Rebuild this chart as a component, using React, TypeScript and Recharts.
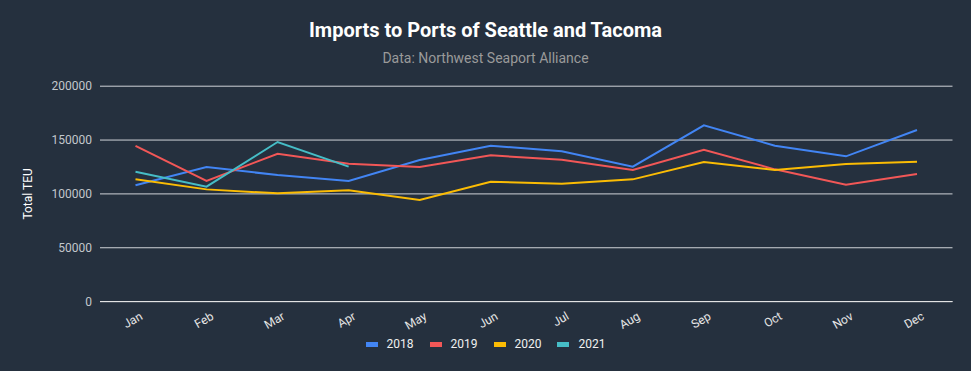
import React from 'react';
import { LineChart, Line, XAxis, YAxis, CartesianGrid } from 'recharts';

const months = ['Jan', 'Feb', 'Mar', 'Apr', 'May', 'Jun', 'Jul', 'Aug', 'Sep', 'Oct', 'Nov', 'Dec'];
const s2018 = [108000, 125000, 117500, 112000, 131500, 144800, 139500, 125300, 163700, 144800, 134900, 159300];
const s2019 = [144500, 112000, 137300, 128000, 125000, 135800, 131800, 122200, 141000, 122800, 108500, 118500];
const s2020 = [113500, 104200, 100500, 103300, 94300, 111300, 109500, 113500, 129600, 122200, 127800, 129900];
const s2021 = [120600, 106700, 148200, 125300, null, null, null, null, null, null, null, null];
const yTicks = [0, 50000, 100000, 150000, 200000];

const series = [
  { key: 'y2018', name: '2018', color: '#4285f4', values: s2018 },
  { key: 'y2019', name: '2019', color: '#f25757', values: s2019 },
  { key: 'y2020', name: '2020', color: '#fbbc04', values: s2020 },
  { key: 'y2021', name: '2021', color: '#46bdc6', values: s2021 },
];

const data = months.map((m, i) => {
  const row: any = { month: m };
  series.forEach((s) => {
    row[s.key] = s.values[i];
  });
  return row;
});

const FONT = 'Roboto, "Noto Sans", sans-serif';
const BG = '#25303e';

const XTick = (props: any) => {
  const { x, y, payload } = props;
  return (
    <text
      transform={`translate(${x + 8},${y + 9}) rotate(-30)`}
      textAnchor="end"
      fill="#e6e6e6"
      fontSize={12}
      fontFamily={FONT}
    >
      {payload.value}
    </text>
  );
};

export default function App() {
  return (
    <div
      style={{
        position: 'absolute',
        left: 0,
        top: 0,
        width: 971,
        height: 371,
        background: BG,
        fontFamily: FONT,
        overflow: 'hidden',
      }}
    >
      <div
        style={{
          position: 'absolute',
          top: 19.7,
          left: 0,
          width: 971,
          textAlign: 'center',
          color: '#ffffff',
          fontSize: 20,
          lineHeight: '20px',
          fontWeight: 700,
        }}
      >
        Imports to Ports of Seattle and Tacoma
      </div>
      <div
        style={{
          position: 'absolute',
          top: 50.9,
          left: 0,
          width: 971,
          textAlign: 'center',
          color: '#9a9a9a',
          fontSize: 14,
          lineHeight: '14px',
        }}
      >
        Data: Northwest Seaport Alliance
      </div>
      <div style={{ position: 'absolute', left: 0, top: 0 }}>
        <LineChart
          width={971}
          height={371}
          data={data}
          margin={{ top: 86.2, right: 18.5, left: 0, bottom: 39.4 }}
        >
          <CartesianGrid horizontal vertical={false} stroke="#d0d3d8" strokeWidth={1} />
          <XAxis
            dataKey="month"
            padding={{ left: 35.5, right: 35.5 }}
            height={30}
            tickLine={false}
            axisLine={{ stroke: '#e6e6e6' }}
            tick={<XTick />}
            interval={0}
          />
          <YAxis
            width={100}
            domain={[0, 200000]}
            ticks={yTicks}
            tickLine={false}
            axisLine={false}
            tick={{ fill: '#c3c7cc', fontSize: 12, fontFamily: FONT }}
            label={{
              value: 'Total TEU',
              angle: -90,
              position: 'insideLeft',
              offset: 28,
              style: { textAnchor: 'middle', fill: '#ffffff', fontSize: 12, fontFamily: FONT },
            }}
          />
          {series.map((s) => (
            <Line
              key={s.key}
              type="linear"
              dataKey={s.key}
              name={s.name}
              stroke={s.color}
              strokeWidth={2}
              dot={false}
              activeDot={false}
              isAnimationActive={false}
            />
          ))}
        </LineChart>
      </div>
      <div
        style={{
          position: 'absolute',
          top: 337,
          left: 0,
          width: 971,
          display: 'flex',
          justifyContent: 'center',
          gap: 16,
          fontSize: 12,
          lineHeight: '14px',
          color: '#f0f0f0',
        }}
      >
        {series.map((s) => (
          <div key={s.key} style={{ display: 'flex', alignItems: 'center' }}>
            <span
              style={{ display: 'inline-block', width: 12, height: 5, background: s.color, marginRight: 9 }}
            />
            <span>{s.name}</span>
          </div>
        ))}
      </div>
    </div>
  );
}
